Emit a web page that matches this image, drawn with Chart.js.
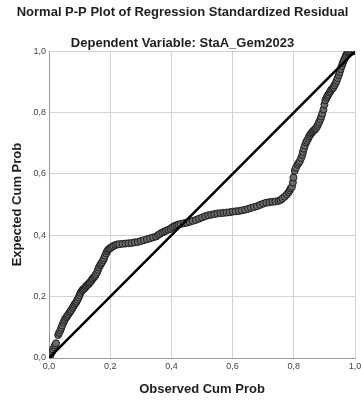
<!DOCTYPE html>
<html>
<head>
<meta charset="utf-8">
<script src="https://cdn.jsdelivr.net/npm/chart.js@4/dist/chart.umd.min.js"></script>
<style>
  html, body { margin: 0; padding: 0; background: #fff; }
  #wrap { width: 361px; height: 401px; }
</style>
</head>
<body>
<div id="wrap"><canvas id="pp"></canvas></div>
<script>
const observedCum = [
  0.003, 0.006, 0.010, 0.013, 0.017, 0.020, 0.023,
  0.030, 0.033, 0.037, 0.040, 0.043, 0.047, 0.050, 0.053, 0.057, 0.060, 0.063, 0.067, 0.070, 0.073, 0.077, 0.080,
  0.083, 0.087, 0.090, 0.093, 0.097, 0.100, 0.103, 0.107, 0.110, 0.113, 0.117, 0.120, 0.123, 0.127, 0.130, 0.133,
  0.137, 0.140, 0.143, 0.147, 0.150, 0.153, 0.157, 0.160, 0.163, 0.167, 0.170, 0.173, 0.177, 0.180, 0.183, 0.187,
  0.190, 0.193, 0.197, 0.200,
  0.205, 0.210, 0.217, 0.223, 0.230, 0.240, 0.250, 0.260, 0.270, 0.280, 0.290, 0.300, 0.310, 0.320, 0.330, 0.340,
  0.350, 0.357, 0.363, 0.370, 0.377, 0.383, 0.390, 0.397, 0.403, 0.410, 0.417, 0.423, 0.430, 0.440, 0.450, 0.460,
  0.470, 0.480, 0.490, 0.500, 0.510, 0.520, 0.530, 0.540, 0.550, 0.560, 0.570, 0.580, 0.590, 0.600, 0.610, 0.620,
  0.630, 0.640, 0.650, 0.660, 0.670, 0.680, 0.690, 0.700, 0.710, 0.720, 0.730, 0.740, 0.750, 0.757, 0.763, 0.770,
  0.777, 0.783, 0.787, 0.790, 0.794,
  0.797, 0.799, 0.803, 0.807, 0.812, 0.816, 0.820, 0.824, 0.828, 0.830, 0.833, 0.836, 0.840, 0.843, 0.847, 0.850,
  0.853, 0.857, 0.860, 0.863, 0.867, 0.870, 0.873, 0.877, 0.880, 0.883, 0.887, 0.890, 0.893, 0.897, 0.900, 0.903,
  0.907, 0.910, 0.913, 0.917, 0.920, 0.923, 0.927, 0.930, 0.933, 0.937, 0.940, 0.943, 0.947, 0.950, 0.953, 0.957,
  0.960, 0.963, 0.967, 0.970, 0.973, 0.977, 0.980, 0.985, 0.990, 0.995, 1.000
];
const expectedCum = [
  0.005, 0.012, 0.020, 0.028, 0.035, 0.042, 0.048,
  0.075, 0.082, 0.090, 0.098, 0.106, 0.115, 0.122, 0.128, 0.133, 0.137, 0.142, 0.148, 0.152, 0.157, 0.163, 0.168,
  0.174, 0.179, 0.184, 0.190, 0.197, 0.205, 0.212, 0.218, 0.222, 0.225, 0.228, 0.232, 0.236, 0.239, 0.242, 0.246,
  0.250, 0.255, 0.259, 0.263, 0.267, 0.272, 0.279, 0.287, 0.295, 0.302, 0.307, 0.312, 0.318, 0.325, 0.333, 0.341,
  0.348, 0.353, 0.356, 0.358,
  0.362, 0.365, 0.368, 0.370, 0.371, 0.372, 0.373, 0.374, 0.375, 0.377, 0.378, 0.381, 0.384, 0.387, 0.390, 0.393,
  0.396, 0.401, 0.405, 0.409, 0.412, 0.415, 0.418, 0.421, 0.426, 0.430, 0.433, 0.435, 0.437, 0.439, 0.441, 0.444,
  0.447, 0.450, 0.454, 0.458, 0.462, 0.465, 0.467, 0.469, 0.471, 0.472, 0.473, 0.474, 0.475, 0.477, 0.478, 0.479,
  0.481, 0.483, 0.486, 0.489, 0.492, 0.495, 0.499, 0.503, 0.506, 0.508, 0.509, 0.510, 0.512, 0.515, 0.520, 0.526,
  0.533, 0.540, 0.547, 0.553, 0.558,
  0.572, 0.588, 0.610, 0.620, 0.630, 0.636, 0.642, 0.652, 0.662, 0.672, 0.682, 0.692, 0.702, 0.708, 0.715, 0.722,
  0.727, 0.732, 0.736, 0.740, 0.743, 0.746, 0.750, 0.756, 0.763, 0.770, 0.778, 0.787, 0.797, 0.810, 0.826, 0.840,
  0.848, 0.854, 0.859, 0.865, 0.870, 0.875, 0.879, 0.883, 0.889, 0.896, 0.903, 0.912, 0.922, 0.932, 0.942, 0.952,
  0.961, 0.969, 0.977, 0.985, 0.991, 0.995, 0.997, 0.998, 0.999, 1.000, 1.000
];
const diagonal = [0, 1];
const tickValues = [0, 0.2, 0.4, 0.6, 0.8, 1.0];

const fontFamily = "'Liberation Sans', Arial, sans-serif";
const fmt = (v) => v.toFixed(1).replace(".", ",");

const points = observedCum.map((x, i) => ({ x, y: expectedCum[i] }));
const refLine = diagonal.map((v) => ({ x: v, y: v }));

function axis(title, isX) {
  return {
    type: "linear",
    min: 0,
    max: 1,
    afterBuildTicks: (scale) => { scale.ticks = tickValues.map((value) => ({ value })); },
    afterFit: (scale) => {
      // fixed plot box, ignore the end-label overhang
      if (isX) {
        scale.height = 39;
        scale.paddingLeft = 0;
        scale.paddingRight = 0;
      } else {
        scale.width = 39;
        scale.paddingTop = 0;
        scale.paddingBottom = 0;
      }
    },
    ticks: {
      callback: (v) => fmt(v),
      font: { family: fontFamily, size: 9 },
      color: "#444",
      padding: 3,
      maxRotation: 0,
      autoSkip: false
    },
    grid: { color: "#d2d2d2", lineWidth: 1, drawTicks: false },
    border: { color: "#9a9a9a", width: 1 },
    title: {
      display: true,
      text: title,
      font: { family: fontFamily, size: 13, weight: "bold" },
      color: "#1e1e1e",
      padding: isX ? { top: 10, bottom: 0 } : { top: 0, bottom: 8 }
    }
  };
}

new Chart(document.querySelector("#pp"), {
  type: "scatter",
  data: {
    datasets: [
      {
        type: "line",
        data: refLine,
        borderColor: "#000",
        borderWidth: 2.5,
        pointRadius: 0,
        order: 0
      },
      {
        data: points,
        backgroundColor: "#6b6b6b",
        borderColor: "#1c1c1c",
        borderWidth: 1,
        pointRadius: 3.5,
        order: 1
      }
    ]
  },
  options: {
    responsive: true,
    maintainAspectRatio: false,
    animation: false,
    layout: { padding: { left: 10, right: 6, top: 0, bottom: 4 } },
    plugins: {
      legend: { display: false },
      tooltip: { enabled: false },
      title: {
        display: true,
        text: "Normal P-P Plot of Regression Standardized Residual",
        font: { family: fontFamily, size: 13, weight: "bold" },
        color: "#1e1e1e",
        padding: { top: 5, bottom: 15 }
      },
      subtitle: {
        display: true,
        text: "Dependent Variable: StaA_Gem2023",
        font: { family: fontFamily, size: 13, weight: "bold" },
        color: "#1e1e1e",
        padding: { top: 0, bottom: 0 }
      }
    },
    scales: {
      x: axis("Observed Cum Prob", true),
      y: axis("Expected Cum Prob", false)
    }
  }
});
</script>
</body>
</html>
